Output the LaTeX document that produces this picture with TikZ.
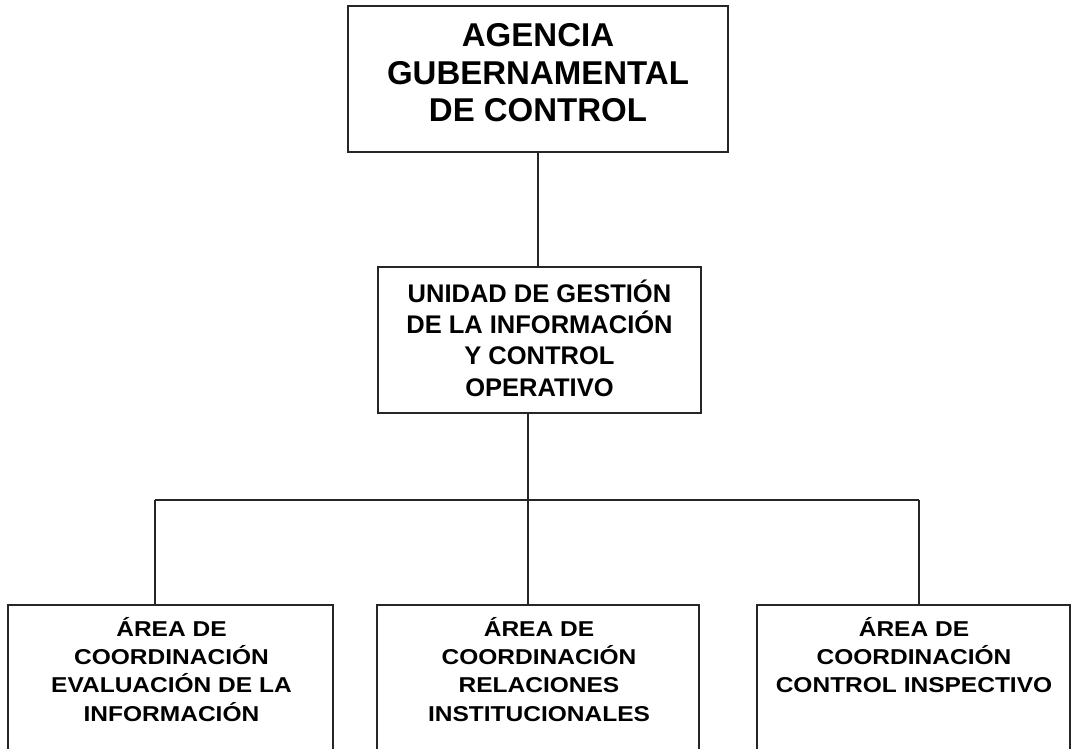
\documentclass[tikz,border=0pt]{standalone}
\usepackage{fontspec}
\setmainfont{Liberation Sans}
\newfontfamily\lowfont[FakeStretch=1.14]{Liberation Sans}
\begin{document}
\begin{tikzpicture}[x=1pt,y=-1pt,
  box/.style={draw=black!85, line width=1.3pt, rectangle, inner sep=0pt, outer sep=0pt},
  conn/.style={draw=black!85, line width=1.3pt},
  toptext/.style={align=center, inner sep=0pt, font=\fontsize{33}{37.5}\selectfont\bfseries},
  midtext/.style={align=center, inner sep=0pt, font=\fontsize{25.5}{31.3}\selectfont\bfseries},
  lowtext/.style={align=center, inner sep=0pt, anchor=north, font=\lowfont\fontsize{21.5}{28.3}\selectfont\bfseries}]
\useasboundingbox (0,0) rectangle (1072,749);
\clip (0,0) rectangle (1072,749);
\fill[white] (0,0) rectangle (1072,749);
% boxes
\node[box, minimum width=380pt, minimum height=146pt] (agencia) at (538,79) {};
\node[box, minimum width=323pt, minimum height=146pt] (unidad) at (539.5,340) {};
\node[box, minimum width=325pt, minimum height=170pt] (evaluacion) at (170.5,690) {};
\node[box, minimum width=322pt, minimum height=170pt] (relaciones) at (538,690) {};
\node[box, minimum width=313pt, minimum height=170pt] (inspectivo) at (913.5,690) {};
% texts
\node[toptext] (tagencia) at (538,72.7) {AGENCIA\\GUBERNAMENTAL\\DE CONTROL};
\node[midtext] (tunidad) at (539.5,338) {UNIDAD DE GESTIÓN\\DE LA INFORMACIÓN\\Y CONTROL\\OPERATIVO};
\node[lowtext] (tevaluacion) at (171.5,617) {ÁREA DE\\COORDINACIÓN\\EVALUACIÓN DE LA\\INFORMACIÓN};
\node[lowtext] (trelaciones) at (539,617) {ÁREA DE\\COORDINACIÓN\\RELACIONES\\INSTITUCIONALES};
\node[lowtext] (tinspectivo) at (914,617) {ÁREA DE\\COORDINACIÓN\\CONTROL INSPECTIVO};
% connectors
\coordinate (bus) at (528,500);
\coordinate (busL) at (155,500);
\coordinate (busR) at (919,500);
\draw[conn] (agencia.south) -- (agencia.south |- unidad.north);
\draw[conn] (unidad.south -| bus) -- (bus) -- (bus |- relaciones.north);
\draw[conn] (busL) -- (busR);
\draw[conn] (busL) -- (busL |- evaluacion.north);
\draw[conn] (busR) -- (busR |- inspectivo.north);
\end{tikzpicture}
\end{document}
